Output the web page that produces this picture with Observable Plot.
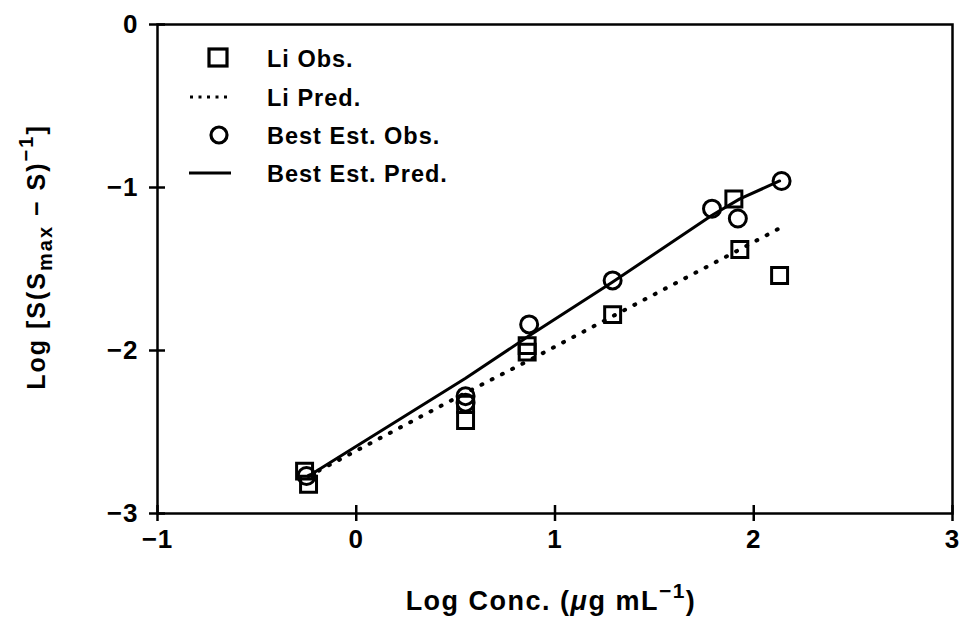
<!DOCTYPE html>
<html><head><meta charset="utf-8">
<script src="https://cdn.jsdelivr.net/npm/d3@7"></script>
<script src="https://cdn.jsdelivr.net/npm/@observablehq/plot@0.6"></script>
<style>
body{margin:0;background:#fff}
#chart svg{font-family:"Liberation Sans",Arial,sans-serif;font-weight:bold}
</style>
</head><body><div id="chart"></div>
<script>
// Li observed (squares)
const liObsX = [-0.26, -0.24, 0.55, 0.55, 0.86, 0.86, 1.29, 1.90, 1.93, 2.13];
const liObsY = [-2.74, -2.82, -2.33, -2.43, -1.97, -2.01, -1.78, -1.07, -1.38, -1.54];
// Li predicted (dotted)
const liPredX = [-0.24, 0.55, 0.87, 1.29, 1.93, 2.13];
const liPredY = [-2.77, -2.26, -2.06, -1.79, -1.38, -1.25];
// Best estimate observed (circles)
const bestObsX = [-0.25, 0.55, 0.55, 0.87, 1.29, 1.79, 1.92, 2.14];
const bestObsY = [-2.77, -2.28, -2.32, -1.84, -1.57, -1.13, -1.19, -0.96];
// Best estimate predicted (solid)
const bestPredX = [-0.24, 0.55, 0.87, 1.29, 1.79, 1.93, 2.13];
const bestPredY = [-2.77, -2.17, -1.91, -1.58, -1.17, -1.07, -0.96];

const xTicks = [-1, 0, 1, 2, 3];
const yTicks = [-3, -2, -1, 0];
const legendLabels = ["Li Obs.", "Li Pred.", "Best Est. Obs.", "Best Est. Pred."];

const zip = (xs, ys) => xs.map((x, i) => ({x, y: ys[i]}));
const liObs = zip(liObsX, liObsY);
const liPred = zip(liPredX, liPredY);
const bestObs = zip(bestObsX, bestObsY);
const bestPred = zip(bestPredX, bestPredY);

const fmt = d => d < 0 ? "\u2212" + Math.abs(d) : String(d);

const chart = Plot.plot({
  width: 961,
  height: 617,
  marginLeft: 157,
  marginRight: 9,
  marginTop: 24,
  marginBottom: 104,
  style: {fontSize: "26px", fontFamily: "'Liberation Sans', Arial, sans-serif", fontWeight: "bold", background: "#fff", letterSpacing: "1px"},
  x: {domain: [-1, 3]},
  y: {domain: [-3, 0]},
  marks: [
    Plot.frame({stroke: "#000", strokeWidth: 2.5}),
    Plot.axisX(xTicks, {tickSize: 16, dy: -8, tickFormat: () => "", label: null, strokeWidth: 2.5}),
    Plot.axisX(xTicks, {tickSize: 0, tickPadding: 16, tickFormat: fmt, label: null}),
    Plot.axisY(yTicks, {tickSize: 16, dx: 8, tickFormat: () => "", label: null, strokeWidth: 2.5}),
    Plot.axisY(yTicks, {tickSize: 0, tickPadding: 19, tickFormat: fmt, label: null}),
    Plot.line(liPred, {x: "x", y: "y", stroke: "#000", strokeWidth: 4, strokeDasharray: "1,10.5", strokeLinecap: "round"}),
    Plot.line(bestPred, {x: "x", y: "y", stroke: "#000", strokeWidth: 3}),
    Plot.dot(liObs, {x: "x", y: "y", symbol: "square", r: 9, stroke: "#000", strokeWidth: 3, fill: "none"}),
    Plot.dot(bestObs, {x: "x", y: "y", symbol: "circle", r: 8.5, stroke: "#000", strokeWidth: 3, fill: "none"})
  ]
});
document.getElementById("chart").appendChild(chart);

const svg = d3.select(chart);

// Legend
const lg = svg.append("g");
const rowsY = [58, 97, 135, 173];
lg.append("rect").attr("x", 209).attr("y", rowsY[0] - 9).attr("width", 18).attr("height", 17)
  .attr("fill", "none").attr("stroke", "#000").attr("stroke-width", 3.2);
lg.append("line").attr("x1", 190).attr("x2", 230).attr("y1", rowsY[1]).attr("y2", rowsY[1])
  .attr("stroke", "#000").attr("stroke-width", 3).attr("stroke-dasharray", "3,5.5");
lg.append("circle").attr("cx", 219).attr("cy", rowsY[2]).attr("r", 8)
  .attr("fill", "none").attr("stroke", "#000").attr("stroke-width", 3.2);
lg.append("line").attr("x1", 189).attr("x2", 231).attr("y1", rowsY[3]).attr("y2", rowsY[3])
  .attr("stroke", "#000").attr("stroke-width", 3);
legendLabels.forEach((t, i) => {
  lg.append("text").attr("x", 267).attr("y", rowsY[i] + 8.5).attr("text-anchor", "start")
    .attr("font-size", 23.5).attr("letter-spacing", 1).attr("font-weight", "bold").attr("fill", "#000").text(t);
});

// X axis title
const xt = svg.append("text").attr("x", 551).attr("y", 610).attr("text-anchor", "middle")
  .attr("font-size", 27).attr("letter-spacing", 1.5).attr("font-weight", "bold").attr("fill", "#000");
xt.append("tspan").text("Log Conc. (");
xt.append("tspan").attr("font-style", "italic").text("\u03bc");
xt.append("tspan").text("g mL");
xt.append("tspan").attr("dy", -12).attr("font-size", 21).text("\u22121");
xt.append("tspan").attr("dy", 12).text(")");

// Y axis title
const yt = svg.append("text").attr("transform", "translate(45,257) rotate(-90)")
  .attr("text-anchor", "middle").attr("font-size", 25).attr("letter-spacing", 2).attr("font-weight", "bold").attr("fill", "#000");
yt.append("tspan").text("Log [S(S");
yt.append("tspan").attr("dy", 7).attr("font-size", 20).text("max");
yt.append("tspan").attr("dy", -7).text(" \u2212 S)");
yt.append("tspan").attr("dy", -12).attr("font-size", 20).text("\u22121");
yt.append("tspan").attr("dy", 12).text("]");
</script>
</body></html>
